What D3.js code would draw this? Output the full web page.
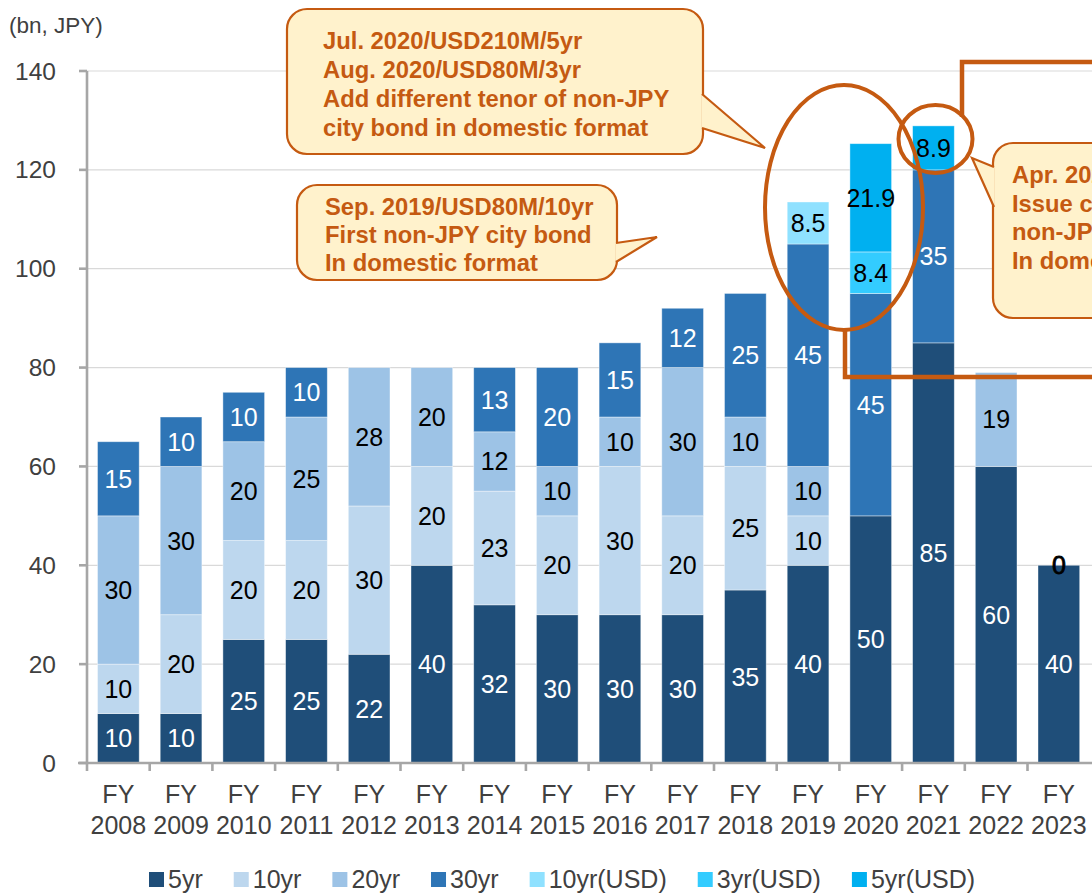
<!DOCTYPE html>
<html>
<head>
<meta charset="utf-8">
<script src="https://cdn.jsdelivr.net/npm/d3@7"></script>
<style>
  html, body { margin: 0; padding: 0; background: #fff; overflow: hidden; }
  svg { display: block; font-family: "Liberation Sans", Arial, sans-serif; }
</style>
</head>
<body>
<svg width="1092" height="896"></svg>
<script>
  // fiscal years on the x axis
  var years = ["2008", "2009", "2010", "2011", "2012", "2013", "2014", "2015",
               "2016", "2017", "2018", "2019", "2020", "2021", "2022", "2023"];

  // series, bottom to top
  var seriesNames = ["5yr", "10yr", "20yr", "30yr", "10yr(USD)", "3yr(USD)", "5yr(USD)"];
  var seriesColors = ["#1F4E79", "#BDD7EE", "#9DC3E6", "#2E75B6", "#8FE1FF", "#33CCFF", "#00B0F0"];
  var labelColors = ["#fff", "#000", "#000", "#fff", "#000", "#000", "#000"];

  // bn JPY, null = no segment
  var v5yr     = [10, 10, 25, 25, 22, 40, 32, 30, 30, 30, 35, 40, 50, 85, 60, 40];
  var v10yr    = [10, 20, 20, 20, 30, 20, 23, 20, 30, 20, 25, 10, null, null, null, 0];
  var v20yr    = [30, 30, 20, 25, 28, 20, 12, 10, 10, 30, 10, 10, null, null, 19, null];
  var v30yr    = [15, 10, 10, 10, null, null, 13, 20, 15, 12, 25, 45, 45, 35, null, null];
  var v10yrUsd = [null, null, null, null, null, null, null, null, null, null, null, 8.5, null, null, null, null];
  var v3yrUsd  = [null, null, null, null, null, null, null, null, null, null, null, null, 8.4, null, null, null];
  var v5yrUsd  = [null, null, null, null, null, null, null, null, null, null, null, null, 21.9, 8.9, null, null];

  var yTicks = [0, 20, 40, 60, 80, 100, 120, 140];

  var seriesValues = [v5yr, v10yr, v20yr, v30yr, v10yrUsd, v3yrUsd, v5yrUsd];

  var rows = years.map(function (y, i) {
    var r = { year: y };
    seriesNames.forEach(function (s, j) { r[s] = seriesValues[j][i]; });
    return r;
  });

  var svg = d3.select("svg");
  var orange = "#C55A11";
  var axisGray = "#A6A6A6";

  var x = d3.scaleBand()
    .domain(years)
    .range([87, 87 + 16 * 62.7])
    .paddingInner(0.335)
    .paddingOuter(0.335 / 2);

  var y = d3.scaleLinear().domain([0, 140]).range([763, 71]);

  // gridlines
  svg.append("g")
    .selectAll("line")
    .data(yTicks.filter(function (t) { return t > 0; }))
    .join("line")
    .attr("x1", 87).attr("x2", 1092)
    .attr("y1", function (d) { return y(d); })
    .attr("y2", function (d) { return y(d); })
    .attr("stroke", "#D9D9D9")
    .attr("stroke-width", 1.2);

  // stacked bars
  var stack = d3.stack()
    .keys(seriesNames)
    .value(function (d, key) { return d[key] == null ? 0 : d[key]; });
  var stacked = stack(rows);

  var barG = svg.append("g");
  stacked.forEach(function (layer, si) {
    var segs = layer.filter(function (d) { return d.data[seriesNames[si]] != null; });
    barG.append("g")
      .selectAll("rect")
      .data(segs.filter(function (d) { return d[1] > d[0]; }))
      .join("rect")
      .attr("x", function (d) { return x(d.data.year); })
      .attr("width", x.bandwidth())
      .attr("y", function (d) { return y(d[1]); })
      .attr("height", function (d) { return y(d[0]) - y(d[1]); })
      .attr("fill", seriesColors[si])
      .attr("stroke", "#fff")
      .attr("stroke-opacity", 0.5)
      .attr("stroke-width", 0.8);
  });

  // segment labels
  var labelG = svg.append("g")
    .attr("font-size", 25)
    .attr("text-anchor", "middle");
  stacked.forEach(function (layer, si) {
    var segs = layer.filter(function (d) { return d.data[seriesNames[si]] != null; });
    labelG.append("g")
      .selectAll("text")
      .data(segs)
      .join("text")
      .attr("x", function (d) { return x(d.data.year) + x.bandwidth() / 2; })
      .attr("y", function (d) { return y((d[0] + d[1]) / 2); })
      .attr("dy", "0.36em")
      .attr("fill", labelColors[si])
      .attr("stroke", function (d) { return d[1] === d[0] ? labelColors[si] : null; })
      .attr("stroke-width", 0.8)
      .text(function (d) { return d.data[seriesNames[si]]; });
  });

  // y axis
  var yAxis = svg.append("g");
  yAxis.append("line")
    .attr("x1", 87).attr("x2", 87)
    .attr("y1", y(0)).attr("y2", y(140))
    .attr("stroke", axisGray).attr("stroke-width", 2.6);
  yAxis.selectAll("line.tick")
    .data(yTicks)
    .join("line")
    .attr("class", "tick")
    .attr("x1", 79).attr("x2", 87)
    .attr("y1", function (d) { return y(d); })
    .attr("y2", function (d) { return y(d); })
    .attr("stroke", axisGray).attr("stroke-width", 2.6);
  yAxis.selectAll("text")
    .data(yTicks)
    .join("text")
    .attr("x", 56)
    .attr("y", function (d) { return y(d); })
    .attr("dy", "0.35em")
    .attr("text-anchor", "end")
    .attr("font-size", 24.5)
    .attr("fill", "#404040")
    .text(function (d) { return d; });

  svg.append("text")
    .attr("x", 9).attr("y", 33)
    .attr("font-size", 22.5)
    .attr("fill", "#404040")
    .text("(bn, JPY)");

  // x axis
  var xAxis = svg.append("g");
  var step = x.step();
  xAxis.append("line")
    .attr("x1", 78).attr("x2", 1092)
    .attr("y1", y(0)).attr("y2", y(0))
    .attr("stroke", axisGray).attr("stroke-width", 2.6);
  xAxis.selectAll("line.tick")
    .data(years)
    .join("line")
    .attr("class", "tick")
    .attr("x1", function (d) { return x(d) - (step - x.bandwidth()) / 2; })
    .attr("x2", function (d) { return x(d) - (step - x.bandwidth()) / 2; })
    .attr("y1", y(0)).attr("y2", y(0) + 8)
    .attr("stroke", axisGray).attr("stroke-width", 2.6);
  var xl = xAxis.selectAll("text")
    .data(years)
    .join("text")
    .attr("text-anchor", "middle")
    .attr("font-size", 25)
    .attr("fill", "#404040");
  xl.append("tspan")
    .attr("x", function (d) { return x(d) + x.bandwidth() / 2; })
    .attr("y", 803)
    .text("FY");
  xl.append("tspan")
    .attr("x", function (d) { return x(d) + x.bandwidth() / 2; })
    .attr("y", 834)
    .text(function (d) { return d; });

  // legend
  var legend = svg.append("g").attr("font-size", 25).attr("fill", "#404040");
  var lx = 149;
  seriesNames.forEach(function (s, i) {
    var item = legend.append("g").attr("transform", "translate(" + lx + ",0)");
    item.append("rect")
      .attr("x", 0).attr("y", 872)
      .attr("width", 15).attr("height", 15)
      .attr("fill", seriesColors[i]);
    var t = item.append("text")
      .attr("x", 19).attr("y", 888)
      .text(s);
    lx += 19 + t.node().getComputedTextLength() + 31;
  });

  // annotations
  var ann = svg.append("g")
    .attr("font-weight", "bold")
    .attr("font-size", 23.8)
    .attr("fill", orange);

  function callout(box, pointer, lines, tx, ty, lh) {
    var g = ann.append("g");
    g.append("rect")
      .attr("x", box[0]).attr("y", box[1])
      .attr("width", box[2]).attr("height", box[3])
      .attr("rx", 20).attr("ry", 20)
      .attr("fill", "#FFF2CC")
      .attr("stroke", orange).attr("stroke-width", 2.2);
    g.append("path")
      .attr("d", d3.line()(pointer))
      .attr("fill", "#FFF2CC")
      .attr("stroke", orange).attr("stroke-width", 2.2);
    g.selectAll("text")
      .data(lines)
      .join("text")
      .attr("x", tx)
      .attr("y", function (d, i) { return ty + i * lh; })
      .text(function (d) { return d; });
  }

  callout([287, 9, 416, 145],
    [[702, 94], [765, 148], [702, 128]],
    ["Jul. 2020/USD210M/5yr", "Aug. 2020/USD80M/3yr",
     "Add different tenor of non-JPY", "city bond in domestic format"],
    323, 49, 29);

  callout([297, 185, 320, 95],
    [[616, 243], [657, 237], [616, 262]],
    ["Sep. 2019/USD80M/10yr", "First non-JPY city bond", "In domestic format"],
    325, 215, 28);

  callout([993, 143, 180, 175],
    [[994, 167], [972, 158], [994, 207]],
    ["Apr. 2021/USD80M/5yr", "Issue continuously", "non-JPY city bond", "In domestic format"],
    1012, 183, 28.5);

  // highlight rings and frame
  var hl = svg.append("g")
    .attr("fill", "none")
    .attr("stroke", orange);
  hl.append("ellipse")
    .attr("cx", 844).attr("cy", 207.5)
    .attr("rx", 79).attr("ry", 122.5)
    .attr("stroke-width", 4);
  hl.append("ellipse")
    .attr("cx", 935.5).attr("cy", 139)
    .attr("rx", 37).attr("ry", 34)
    .attr("stroke-width", 4);
  hl.append("path")
    .attr("d", "M962,117V62H1100")
    .attr("stroke-width", 4.5);
  hl.append("path")
    .attr("d", "M845,329V377H1100")
    .attr("stroke-width", 4.5);
</script>
</body>
</html>
